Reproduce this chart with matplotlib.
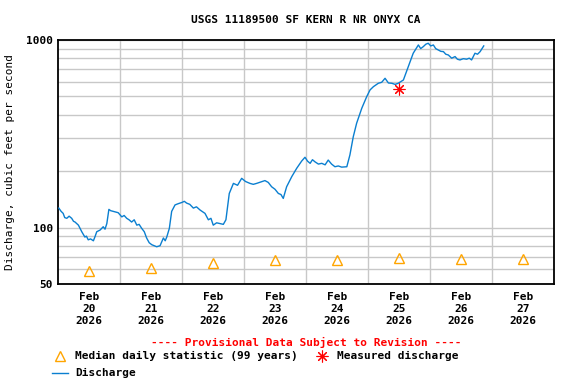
import numpy as np
import matplotlib
matplotlib.use("Agg")
from matplotlib import pyplot as plt
from matplotlib.lines import Line2D

# hours since Feb 20 2026 00:00 and discharge (cfs)
hours = [0.3, 1.2, 2.0, 2.6, 3.4, 4.3, 5.3, 6.0, 6.6, 7.9,
         9.2, 10.4, 11.0, 11.7, 12.6, 13.7, 14.4, 15.0, 16.3, 17.5,
         18.2, 18.9, 19.7, 20.4, 21.4, 22.4, 23.3, 24.7, 25.6, 26.6,
         27.5, 28.5, 29.5, 30.5, 31.4, 32.4, 33.4, 34.3, 35.3, 36.3,
         37.2, 38.2, 39.5, 40.8, 41.5, 42.1, 43.1, 44.0, 45.3, 46.5,
         47.9, 48.9, 49.8, 51.0, 52.4, 53.6, 55.0, 56.9, 58.2, 59.2,
         60.1, 61.4, 62.7, 64.0, 65.0, 66.3, 67.9, 69.5, 71.1, 72.6,
         74.3, 75.6, 76.9, 78.5, 80.1, 81.4, 82.7, 84.0, 85.3, 86.3,
         87.2, 88.5, 90.5, 92.4, 94.3, 95.6, 96.6, 97.6, 98.5, 99.5,
         100.8, 102.1, 103.4, 104.6, 105.9, 107.2, 108.5, 109.8, 111.8, 113.0,
         114.3, 115.6, 117.6, 119.5, 120.8, 122.1, 124.0, 125.3, 126.6, 127.9,
         129.2, 130.5, 131.7, 133.7, 135.6, 137.5, 139.5, 140.4, 141.4, 142.4,
         143.3, 144.3, 145.3, 146.2, 147.2, 148.2, 149.2, 150.1, 151.1, 152.4,
         153.7, 154.6, 155.6, 156.9, 158.2, 159.2, 160.1, 161.4, 162.4, 163.4,
         164.8]
discharge = [127, 122, 119, 113, 112, 115, 112, 108, 107, 103,
             95, 89, 90, 86, 87, 85, 90, 95, 97, 101,
             98, 105, 125, 123, 122, 121, 120, 114, 116, 112,
             110, 107, 110, 103, 104, 99, 95, 88, 83, 81,
             80, 79, 80, 88, 85, 89, 99, 122, 132, 134,
             136, 138, 135, 133, 127, 129, 124, 119, 110, 112,
             103, 106, 105, 104, 110, 152, 172, 168, 183, 176,
             172, 170, 172, 175, 178, 174, 165, 160, 152, 150,
             143, 165, 187, 207, 226, 237, 226, 220, 230, 224,
             218, 220, 216, 229, 218, 211, 213, 210, 211, 244,
             305, 360, 433, 499, 542, 564, 588, 595, 625, 590,
             588, 580, 588, 612, 721, 850, 941, 900, 922, 950,
             961, 930, 941, 900, 885, 870, 867, 840, 832, 800,
             816, 790, 783, 795, 790, 800, 783, 850, 840, 867,
             930]

median_hours = [12, 36, 60, 84, 108, 132, 156, 180]
median_values = [59, 61, 64.5, 67, 67, 68.5, 68, 68]

measured_hour = [132.1]
measured_value = [551]

day_labels = ["Feb\n20\n2026", "Feb\n21\n2026", "Feb\n22\n2026", "Feb\n23\n2026",
              "Feb\n24\n2026", "Feb\n25\n2026", "Feb\n26\n2026", "Feb\n27\n2026"]

plt.rcParams['font.family'] = ['DejaVu Sans Mono']
plt.rcParams['font.weight'] = 'bold'

fig = plt.figure(figsize=(5.76, 3.84), dpi=100)
ax = fig.add_axes([0.1007, 0.2604, 0.8611, 0.6354])

ax.plot(hours, discharge, color='#0a7fd0', lw=1.0, zorder=3)
ax.plot(median_hours, median_values, ls='none', marker='^', ms=6.5, mfc='none',
        mec='#ffa500', mew=1.0, zorder=4)
ax.plot(measured_hour, measured_value, ls='none', marker=(8, 2, 0), ms=8.5,
        color='red', mew=0.8, zorder=5)

ax.set_yscale('log')
ax.set_ylim(50, 1000)
ax.set_xlim(0, 192)
ax.set_yticks([50, 100, 1000])
ax.set_yticklabels(['50', '100', '1000'])
ax.set_yticks([60, 70, 80, 90, 200, 300, 400, 500, 600, 700, 800, 900], minor=True)
ax.yaxis.set_minor_formatter(plt.NullFormatter())
ax.set_xticks(median_hours)
ax.set_xticklabels(day_labels)
ax.set_xticks(np.arange(24, 192, 24), minor=True)
ax.tick_params(which='both', length=0, labelsize=8)
ax.tick_params(axis='x', pad=6)
ax.grid(True, which='minor', color='#c8c8c8', lw=1)
ax.grid(True, which='major', axis='y', color='#c8c8c8', lw=1)
for s in ax.spines.values():
    s.set_linewidth(1.3)

ax.set_ylabel('Discharge, cubic feet per second', fontsize=8, labelpad=8)
fig.text(0.531, 0.948, 'USGS 11189500 SF KERN R NR ONYX CA', ha='center',
         va='center', fontsize=8)
fig.text(0.531, 0.107, '---- Provisional Data Subject to Revision ----',
         ha='center', va='center', fontsize=8, color='red')

fig.add_artist(Line2D([0.1042], [0.0729], ls='none', marker='^', ms=6.5, mfc='none',
                      mec='#ffa500', mew=1.0))
fig.text(0.130, 0.0729, 'Median daily statistic (99 years)', va='center', fontsize=8)
fig.add_artist(Line2D([0.559], [0.0729], ls='none', marker=(8, 2, 0), ms=8.5,
                      color='red', mew=0.8))
fig.text(0.585, 0.0729, 'Measured discharge', va='center', fontsize=8)
fig.add_artist(Line2D([0.090, 0.118], [0.0286, 0.0286], color='#0a7fd0', lw=1.0))
fig.text(0.130, 0.0286, 'Discharge', va='center', fontsize=8)

fig.savefig('out.png', dpi=100)
